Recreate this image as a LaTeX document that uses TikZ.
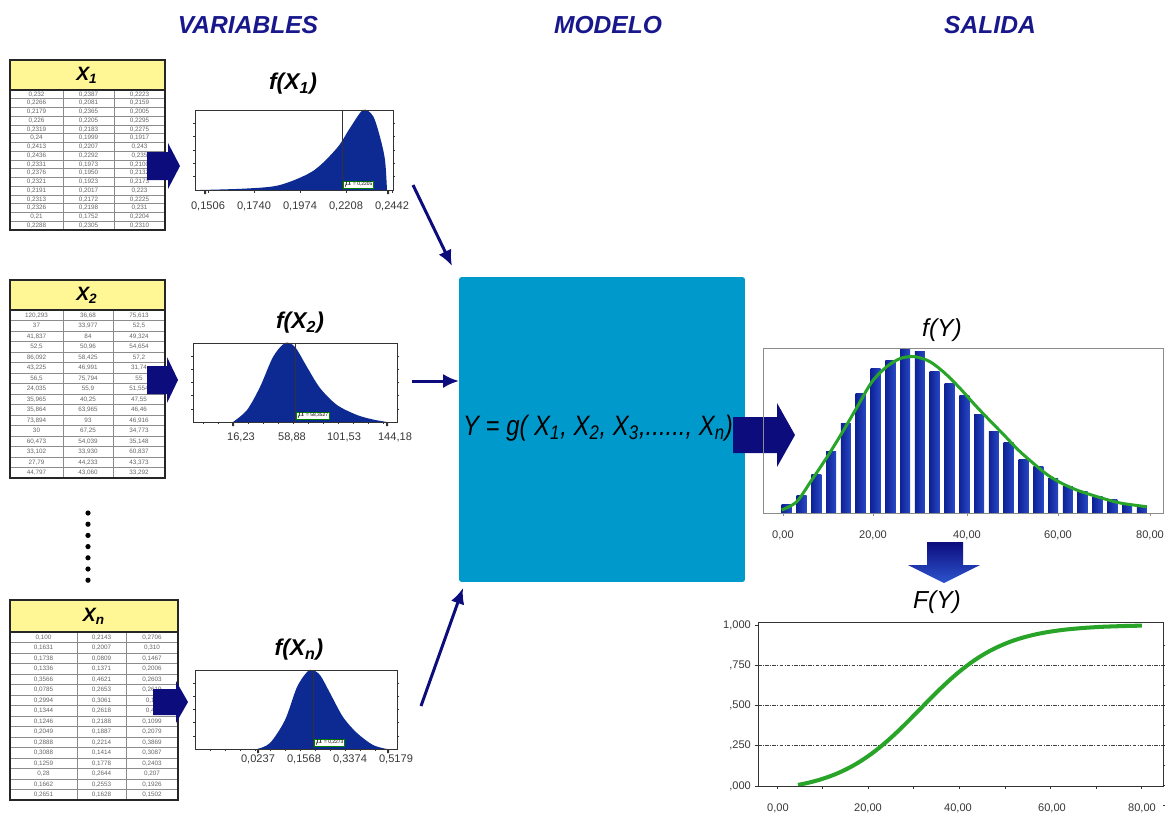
\documentclass[tikz,border=0pt]{standalone}
\usepackage{fontspec}
\setmainfont{Liberation Sans}
\newfontfamily\formfont[FakeStretch=0.85]{Liberation Sans}
\usepackage{xcolor}
\usetikzlibrary{arrows.meta,positioning,calc}
\definecolor{headnavy}{RGB}{24,24,140}
\definecolor{densblue}{RGB}{12,42,145}
\definecolor{barblue}{RGB}{14,34,150}
\definecolor{barlight}{RGB}{40,72,195}
\definecolor{modelblue}{RGB}{0,153,204}
\definecolor{tableyellow}{RGB}{255,246,150}
\definecolor{curvegreen}{RGB}{40,165,40}
\definecolor{arrownavy}{RGB}{12,12,125}
\definecolor{arrowlight}{RGB}{45,85,205}
\definecolor{ticklabel}{RGB}{55,55,55}

\tikzset{
  hdr/.style={font=\bfseries\itshape\fontsize{14}{16}\selectfont, text=headnavy},
  ctitle/.style={font=\bfseries\itshape\fontsize{13}{15}\selectfont},
  otitle/.style={font=\itshape\fontsize{14}{16}\selectfont},
  formula/.style={font=\formfont\itshape\fontsize{16}{18}\selectfont, inner sep=0pt},
  ticklab/.style={font=\fontsize{6.3}{7}\selectfont, text=ticklabel, inner sep=1pt},
  varname/.style={font=\bfseries\itshape\fontsize{11}{12}\selectfont},
  cell/.style={font=\fontsize{3.6}{4}\selectfont, text=black!60, inner sep=0pt},
  tableframe/.style={draw=black!85, line width=1pt},
  rowline/.style={draw=black!45, line width=0.35pt},
  chartframe/.style={draw=black!80, line width=0.4pt},
  flowarrow/.style={draw=arrownavy, line width=1.7pt, -{Latex[length=9pt,width=8pt]}},
  fatarrow/.style={fill=arrownavy},
  meanbox/.style={draw=green!50!black, fill=white, line width=0.3pt, font=\fontsize{2.8}{3}\selectfont, inner sep=0.6pt},
  modelbox/.style={fill=modelblue, rounded corners=1.5pt, minimum width=5.72cm, minimum height=6.1cm},
  grid/.style={draw=black!75, line width=0.5pt, dash pattern=on 2pt off 0.8pt on 0.5pt off 0.8pt}
}

\begin{document}
\begin{tikzpicture}[x=0.02cm,y=-0.02cm]
\useasboundingbox (0,0) rectangle (1168,815);

% column headings
\node[hdr] (hvar) at (248,25) {VARIABLES};
\node[hdr] (hmod) at (608,25) {MODELO};
\node[hdr] (hsal) at (990,25) {SALIDA};

% ---------------- table X1
\fill[tableyellow] (10,60) rectangle (165,90);
\node[varname] (tx1) at (87,75) {X\textsubscript{1}};
\foreach \i in {1,...,15} \draw[rowline] (10,{90+8.75*\i}) -- (165,{90+8.75*\i});
\draw[rowline] (63,90) -- (63,230) (114,90) -- (114,230);
\foreach \a/\b/\c [count=\i] in {{0,232}/{0,2387}/{0,2223},{0,2266}/{0,2081}/{0,2159},{0,2179}/{0,2365}/{0,2005},{0,226}/{0,2205}/{0,2295},{0,2319}/{0,2183}/{0,2275},{0,24}/{0,1999}/{0,1917},{0,2413}/{0,2207}/{0,243},{0,2436}/{0,2292}/{0,235},{0,2331}/{0,1973}/{0,2100},{0,2376}/{0,1950}/{0,2132},{0,2321}/{0,1923}/{0,2173},{0,2191}/{0,2017}/{0,223},{0,2313}/{0,2172}/{0,2225},{0,2326}/{0,2198}/{0,231},{0,21}/{0,1752}/{0,2204},{0,2288}/{0,2305}/{0,2310}}{
  \node[cell] (xa\i) at (36.5,{90+8.75*(\i-0.5)}) {\a};
  \node[cell] (xb\i) at (88.5,{90+8.75*(\i-0.5)}) {\b};
  \node[cell] (xc\i) at (139.5,{90+8.75*(\i-0.5)}) {\c};
}
\draw[tableframe] (10,60) rectangle (165,230);
\draw[tableframe] (10,90) -- (165,90);
\fill[fatarrow] (147,152) -- (168,152) -- (168,143) -- (180,166) -- (168,189) -- (168,180) -- (147,180) -- cycle;

% ---------------- table X2
\fill[tableyellow] (10,280) rectangle (165,310);
\node[varname] (tx2) at (87,295) {X\textsubscript{2}};
\foreach \i in {1,...,15} \draw[rowline] (10,{310+10.5*\i}) -- (165,{310+10.5*\i});
\draw[rowline] (63,310) -- (63,478) (113,310) -- (113,478);
\foreach \a/\b/\c [count=\i] in {{120,293}/{36,68}/{75,613},{37}/{33,977}/{52,5},{41,837}/{84}/{49,324},{52,5}/{50,96}/{54,654},{86,092}/{58,425}/{57,2},{43,225}/{46,991}/{31,74},{56,5}/{75,794}/{55},{24,035}/{55,9}/{51,554},{35,965}/{40,25}/{47,55},{35,864}/{63,965}/{46,46},{73,894}/{93}/{46,916},{30}/{67,25}/{34,773},{60,473}/{54,039}/{35,148},{33,102}/{33,930}/{60,837},{27,79}/{44,233}/{43,373},{44,797}/{43,060}/{33,292}}{
  \node[cell] (ya\i) at (36.5,{310+10.5*(\i-0.5)}) {\a};
  \node[cell] (yb\i) at (88,{310+10.5*(\i-0.5)}) {\b};
  \node[cell] (yc\i) at (139,{310+10.5*(\i-0.5)}) {\c};
}
\draw[tableframe] (10,280) rectangle (165,478);
\draw[tableframe] (10,310) -- (165,310);
\fill[fatarrow] (147,366) -- (167,366) -- (167,357) -- (178,380) -- (167,403) -- (167,394) -- (147,394) -- cycle;

% dots between the tables
\foreach \d in {0,...,6} \fill[black] (88,{513+11.2*\d}) circle (2.6);

% ---------------- table Xn
\fill[tableyellow] (10,600) rectangle (178,632);
\node[varname] (txn) at (94,616) {X\textsubscript{n}};
\foreach \i in {1,...,15} \draw[rowline] (10,{632+10.5*\i}) -- (178,{632+10.5*\i});
\draw[rowline] (77,632) -- (77,800) (126,632) -- (126,800);
\foreach \a/\b/\c [count=\i] in {{0,100}/{0,2143}/{0,2706},{0,1631}/{0,2007}/{0,310},{0,1738}/{0,0809}/{0,1467},{0,1336}/{0,1371}/{0,2006},{0,3566}/{0,4621}/{0,2603},{0,0785}/{0,2653}/{0,2619},{0,2994}/{0,3061}/{0,12},{0,1344}/{0,2618}/{0,40},{0,1246}/{0,2188}/{0,1099},{0,2049}/{0,1887}/{0,2079},{0,2888}/{0,2214}/{0,3869},{0,3088}/{0,1414}/{0,3087},{0,1259}/{0,1778}/{0,2403},{0,28}/{0,2644}/{0,207},{0,1662}/{0,2553}/{0,1926},{0,2651}/{0,1628}/{0,1502}}{
  \node[cell] (za\i) at (43.5,{632+10.5*(\i-0.5)}) {\a};
  \node[cell] (zb\i) at (101.5,{632+10.5*(\i-0.5)}) {\b};
  \node[cell] (zc\i) at (152,{632+10.5*(\i-0.5)}) {\c};
}
\draw[tableframe] (10,600) rectangle (178,800);
\draw[tableframe] (10,632) -- (178,632);
\fill[fatarrow] (153,689) -- (176,689) -- (176,681) -- (188,702) -- (176,723) -- (176,715) -- (153,715) -- cycle;

% ---------------- f(X1)
\node[ctitle] (fx1) at (293,84) {f(X\textsubscript{1})};
\fill[densblue] plot[smooth] coordinates {(200,190) (247,188.5) (280,185) (313,171) (337,148) (350,128) (363,110) (373,116) (380,137) (385,160) (387,190)} -- cycle;
\draw[chartframe] (195,110) rectangle (393,190);
\draw[black!80, line width=0.5pt] (342,110) -- (342,190);
\node[meanbox, anchor=south west] (m1) at (343,189) {$\mu$ = 0,2205};
\foreach \t in {1,...,5} {\draw[chartframe] (195,{110+13.3*\t}) -- ++(-2,0); \draw[chartframe] (393,{110+13.3*\t}) -- ++(2,0);}
\foreach \x/\l in {208/{0,1506},254/{0,1740},300/{0,1974},346/{0,2208},392/{0,2442}} {
  \draw[chartframe] (\x,190) -- ++(0,3);
  \node[ticklab] at (\x,206) {\l};
}
\fill[black!80] (204,190) rectangle ++(2,4) (387,190) rectangle ++(2,4);

% ---------------- f(X2)
\node[ctitle] (fx2) at (300,323) {f(X\textsubscript{2})};
\fill[densblue] plot[smooth] coordinates {(233,422) (247,410) (260,387) (273,357) (285,343) (295,347) (307,367) (320,388) (337,405) (357,415) (373,419.5) (387,422)} -- cycle;
\draw[chartframe] (193,343) rectangle (397,422);
\draw[black!80, line width=0.5pt] (295,343) -- (295,422);
\node[meanbox, anchor=south west] (m2) at (296,420) {$\mu$ = 58,3527};
\foreach \t in {1,...,5} {\draw[chartframe] (193,{343+13.2*\t}) -- ++(-2,0); \draw[chartframe] (397,{343+13.2*\t}) -- ++(2,0);}
\foreach \x/\l in {241/{16,23},292/{58,88},344/{101,53},395/{144,18}} {
  \node[ticklab] at (\x,437) {\l};
}
\foreach \x in {203,218,233,248,263,278,293,308,323,338,353,368,383} \draw[chartframe] (\x,422) -- ++(0,2);
\fill[black!80] (232,422) rectangle ++(2,4) (386,422) rectangle ++(2,4);

% ---------------- f(Xn)
\node[ctitle] (fxn) at (299,650) {f(X\textsubscript{n})};
\fill[densblue] plot[smooth] coordinates {(257,749) (270,743) (285,720) (297,687) (307,672) (312,670) (320,675) (330,693) (343,717) (357,733) (373,745) (387,749)} -- cycle;
\draw[chartframe] (195,670) rectangle (397,749);
\draw[black!80, line width=0.5pt] (313,670) -- (313,749);
\node[meanbox, anchor=south west] (mn) at (314,747) {$\mu$ = 0,2273};
\foreach \t in {1,...,5} {\draw[chartframe] (195,{670+13.2*\t}) -- ++(-2,0); \draw[chartframe] (397,{670+13.2*\t}) -- ++(2,0);}
\foreach \x/\l in {258/{0,0237},304/{0,1568},350/{0,3374},396/{0,5179}} {
  \node[ticklab] at (\x,759) {\l};
}
\foreach \x in {210,225,240,255,270,285,300,315,330,345,360,375} \draw[chartframe] (\x,749) -- ++(0,2);
\fill[black!80] (257,749) rectangle ++(2,4) (387,749) rectangle ++(2,4);

% ---------------- model
\node[modelbox] (modelo) at (602,429.5) {};
\node[formula] (gfun) at (598,428) {Y = g( X\textsubscript{1}, X\textsubscript{2}, X\textsubscript{3},......, X\textsubscript{n})};

% inputs into the model
\coordinate (out1) at (413,185);
\coordinate (in1) at (452,266);
\coordinate (out2) at (412,381);
\coordinate (in2) at (459,381);
\coordinate (outn) at (421,706);
\coordinate (inn) at (463,588);
\draw[flowarrow] (out1) -- (in1);
\draw[flowarrow] (out2) -- (in2);
\draw[flowarrow] (outn) -- (inn);

% output arrow
\fill[fatarrow] (733,417) -- (777,417) -- (777,403) -- (795,435) -- (777,467) -- (777,453) -- (733,453) -- cycle;

% ---------------- f(Y)
\node[otitle] (fy) at (942,330) {f(Y)};
\foreach \h [count=\i] in {8.3,17.3,39,61.7,90,120,145,153,165,161.7,141.7,130,117.3,98.3,81.7,70.7,53.3,46.7,35,26.7,21.7,16.7,13.3,9,7.3}
  \shade[left color=barblue, right color=barlight] ({781.7+14.8*(\i-1)},513) rectangle ++(10,-\h);
\draw[curvegreen, line width=1.7pt] plot[smooth] coordinates {(781.7,510) (796.7,501.7) (811.7,480) (827.3,456.7) (842.7,431.7) (857.3,406.7) (872,381.7) (886.7,366.7) (900.7,358.3) (915,356.7) (930,361.7) (945,373.3) (960,388.3) (975,405) (989.3,420) (1004,435) (1018.3,450) (1033.3,463.3) (1047.7,475) (1061.7,483.3) (1076.7,490) (1091.7,495) (1106,499.3) (1121.7,503.3) (1146.7,506.7)};
\draw[black!45, line width=0.4pt] (763,348) rectangle (1163,513);
\foreach \x/\l in {783/{0,00},873/{20,00},967/{40,00},1058/{60,00},1150/{80,00}} {
  \draw[black!45] (\x,513) -- ++(0,3);
  \node[ticklab] at (\x,535) {\l};
}

% down arrow
\shade[top color=arrownavy, bottom color=arrowlight] (927,542) -- (963,542) -- (963,565) -- (980,565) -- (944,583) -- (908,565) -- (927,565) -- cycle;

% ---------------- F(Y)
\node[otitle] (cfy) at (937,602) {F(Y)};
\foreach \y in {665,705,745} \draw[grid] (758,\y) -- (1163,\y);
\draw[curvegreen, line width=2.3pt] plot[domain=4.6:80, samples=60, smooth] ({777+4.56*\x}, {785-159.4*(1/(1+exp(-(\x-31.4)/9))-0.048)/0.9475});
\draw[chartframe] (758,622) rectangle (1163,786);
\foreach \y/\l in {625/{1,000},665/{,750},705/{,500},745/{,250},786/{,000}} {
  \draw[chartframe] (758,\y) -- ++(-3,0);
  \node[ticklab, anchor=east] at (753,\y) {\l};
}
\foreach \k in {0,...,8} {\draw[chartframe] ({777+45.6*\k},786) -- ++(0,3); \draw[chartframe] (1163,{645+20*\k}) -- ++(2,0);}
\foreach \x/\l in {778/{0,00},868/{20,00},958/{40,00},1052/{60,00},1142/{80,00}} {
  \node[ticklab] at (\x,808) {\l};
}
\end{tikzpicture}
\end{document}
